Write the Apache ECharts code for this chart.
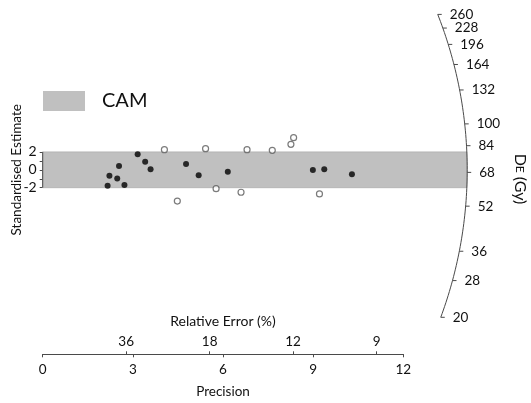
<!DOCTYPE html>
<html>
<head>
<meta charset="utf-8">
<script src="https://cdn.jsdelivr.net/npm/echarts@6/dist/echarts.min.js"></script>
<style>
  html, body { margin: 0; padding: 0; background: #fff; }
  #chart { width: 531px; height: 403px; }
</style>
</head>
<body>
<div id="chart"></div>
<script>
// Radial plot of single-aliquot equivalent doses with the CAM ±2 band

// Aliquots falling inside the ±2 band: [precision, standardised estimate]
const insideBand = [
  [2.16, -1.78], [2.22, -0.66], [2.54, 0.42], [2.48, -0.98], [2.72, -1.70],
  [3.16, 1.73], [3.41, 0.91], [3.59, 0.06], [4.77, 0.65], [5.19, -0.61],
  [6.16, -0.21], [8.99, -0.02], [9.37, 0.06], [10.29, -0.50]
];
// Aliquots falling outside the band
const outsideBand = [
  [4.05, 2.25], [4.48, -3.49], [5.42, 2.36], [5.77, -2.11], [6.60, -2.51],
  [6.80, 2.25], [7.64, 2.18], [8.26, 2.85], [8.35, 3.59], [9.21, -2.70]
];

const centralDe = 69.4;          // CAM dose, Gy
const bandHalfWidth = 2;         // ±2 standardised units
const deTicks = [20, 28, 36, 52, 68, 84, 100, 132, 164, 196, 228, 260];
const precisionTicks = [0, 3, 6, 9, 12];
const relErrorTicks = [36, 18, 12, 9];   // percent
const yTickValues = [-2, -1, 0, 1, 2];
const yLabelValues = [-2, 0, 2];

// Layout
const FONT = 'Lato, "Open Sans", sans-serif';
const TEXT = '#111';
const AXIS = '#4a4a4a';
const BAND = '#c0c0c0';
const ARC_RADIUS = 424.5;        // px, radius of the dose scale
const PLOT_LEFT = 42.7, PLOT_RIGHT = 127.7;
const Y_ORIGIN_PX = 169.8, Y_PX_PER_UNIT = 8.95, Y_HALF_RANGE = 18;
const X_AXIS_PX = 354.3;

function radialFrame(api) {
  const o = api.coord([0, 0]);
  const sx = api.coord([1, 0])[0] - o[0];
  const sy = o[1] - api.coord([0, 1])[1];
  return { o, sx, sy };
}
function rayAngle(f, de) {
  const slope = Math.log(de) - Math.log(centralDe);
  return Math.atan2(-slope * f.sy, f.sx);
}
function onArc(f, a, r) {
  return [f.o[0] + r * Math.cos(a), f.o[1] + r * Math.sin(a)];
}

// CAM band: horizontal strip from the origin out to the dose arc
function renderBand(params, api) {
  const f = radialFrame(api);
  const yTop = api.coord([0, bandHalfWidth])[1];
  const yBot = api.coord([0, -bandHalfWidth])[1];
  const pts = [[f.o[0], yTop]];
  const n = 24;
  for (let i = 0; i <= n; i++) {
    const y = yTop + (yBot - yTop) * i / n;
    const dy = y - f.o[1];
    pts.push([f.o[0] + Math.sqrt(ARC_RADIUS * ARC_RADIUS - dy * dy), y]);
  }
  pts.push([f.o[0], yBot]);
  return {
    type: 'polygon',
    shape: { points: pts },
    style: { fill: BAND, stroke: '#adadad', lineWidth: 0.8 }
  };
}

// Dose scale: arc, ticks and labels
function renderDoseScale(params, api) {
  const f = radialFrame(api);
  const aStart = rayAngle(f, deTicks[deTicks.length - 1]);
  const aEnd = rayAngle(f, deTicks[0]);
  const arcPts = [];
  const n = 80;
  for (let i = 0; i <= n; i++) {
    arcPts.push(onArc(f, aStart + (aEnd - aStart) * i / n, ARC_RADIUS));
  }
  const children = [{
    type: 'polyline',
    shape: { points: arcPts },
    style: { stroke: AXIS, lineWidth: 1, fill: null }
  }];
  deTicks.forEach(function (de) {
    const p = onArc(f, rayAngle(f, de), ARC_RADIUS);
    children.push({
      type: 'line',
      shape: { x1: p[0], y1: p[1], x2: p[0] + 4, y2: p[1] },
      style: { stroke: AXIS, lineWidth: 1 }
    });
    children.push({
      type: 'text',
      x: p[0] + 12, y: p[1],
      style: {
        text: String(de), fill: TEXT, fontSize: 13.5, fontFamily: FONT,
        align: 'left', verticalAlign: 'middle'
      }
    });
  });
  return { type: 'group', children: children };
}

const chart = echarts.init(document.getElementById('chart'), null, { renderer: 'canvas' });

chart.setOption({
  animation: false,
  backgroundColor: '#fff',
  textStyle: { fontFamily: FONT, color: TEXT },
  legend: {
    left: 43, top: 91, padding: 0,
    itemWidth: 42, itemHeight: 20,
    selectedMode: false,
    data: [{ name: 'CAM', icon: 'rect', itemStyle: { color: BAND } }],
    textStyle: { fontSize: 20, color: TEXT, fontFamily: FONT, padding: [0, 0, 0, 12] }
  },
  grid: [
    {
      left: PLOT_LEFT, right: PLOT_RIGHT,
      top: Y_ORIGIN_PX - Y_HALF_RANGE * Y_PX_PER_UNIT,
      height: 2 * Y_HALF_RANGE * Y_PX_PER_UNIT,
      outerBoundsMode: 'none'
    },
    {
      left: PLOT_LEFT, right: PLOT_RIGHT,
      top: X_AXIS_PX, height: 0,
      outerBoundsMode: 'none'
    }
  ],
  xAxis: [
    { gridIndex: 0, type: 'value', min: 0, max: 12, show: false },
    {
      gridIndex: 1, type: 'value', position: 'bottom',
      min: 0, max: 12, interval: 3,
      name: 'Precision', nameLocation: 'middle', nameGap: 30,
      nameMoveOverlap: false,
      nameTextStyle: { fontSize: 13.5, color: TEXT, fontFamily: FONT },
      axisLine: { show: true, lineStyle: { color: AXIS, width: 1 } },
      axisTick: { show: true, length: 3, customValues: precisionTicks, lineStyle: { color: AXIS } },
      axisLabel: { customValues: precisionTicks, fontSize: 13.5, color: TEXT, fontFamily: FONT, margin: 8 },
      splitLine: { show: false }
    },
    {
      gridIndex: 1, type: 'value', position: 'top',
      min: 0, max: 12,
      name: 'Relative Error (%)', nameLocation: 'middle', nameGap: 26,
      nameMoveOverlap: false,
      nameTextStyle: { fontSize: 14, color: TEXT, fontFamily: FONT },
      axisLine: { show: true, lineStyle: { color: AXIS, width: 1 } },
      axisTick: {
        show: true, length: 3, lineStyle: { color: AXIS },
        customValues: relErrorTicks.map(function (r) { return 100 / r; })
      },
      axisLabel: {
        customValues: relErrorTicks.map(function (r) { return 100 / r; }),
        formatter: function (v) { return String(Math.round(100 / v)); },
        fontSize: 13.5, color: TEXT, fontFamily: FONT, margin: 6
      },
      splitLine: { show: false }
    }
  ],
  yAxis: [
    {
      gridIndex: 0, type: 'value',
      min: -Y_HALF_RANGE, max: Y_HALF_RANGE,
      name: 'Standardised Estimate', nameLocation: 'middle', nameGap: 19,
      nameMoveOverlap: false,
      nameTextStyle: { fontSize: 13.5, color: TEXT, fontFamily: FONT },
      axisLine: { show: false },
      axisTick: { show: true, length: 3, customValues: yTickValues, lineStyle: { color: AXIS } },
      axisLabel: { customValues: yLabelValues, fontSize: 14, color: TEXT, fontFamily: FONT, margin: 6 },
      splitLine: { show: false }
    },
    { gridIndex: 1, type: 'value', min: 0, max: 1, show: false }
  ],
  series: [
    {
      name: 'CAM', type: 'custom', xAxisIndex: 0, yAxisIndex: 0,
      itemStyle: { color: BAND },
      renderItem: renderBand,
      data: [[0, 0]], z: 1, silent: true
    },
    {
      name: 'Standardised axis', type: 'line', xAxisIndex: 0, yAxisIndex: 0,
      data: [[0, -bandHalfWidth], [0, bandHalfWidth]],
      symbol: 'none', lineStyle: { color: AXIS, width: 1 }, z: 3, silent: true
    },
    {
      name: 'Dose scale', type: 'custom', xAxisIndex: 0, yAxisIndex: 0,
      renderItem: renderDoseScale,
      data: [[0, 0]], z: 2, silent: true
    },
    {
      name: 'Inside band', type: 'scatter', xAxisIndex: 0, yAxisIndex: 0,
      data: insideBand, symbol: 'circle', symbolSize: 6,
      itemStyle: { color: '#000' }, z: 5
    },
    {
      name: 'Outside band', type: 'scatter', xAxisIndex: 0, yAxisIndex: 0,
      data: outsideBand, symbol: 'circle', symbolSize: 6,
      itemStyle: { color: '#fff', borderColor: '#5a5a5a', borderWidth: 1.2 }, z: 5
    }
  ],
  graphic: [{
    type: 'text',
    x: 520, y: 179,
    rotation: -Math.PI / 2,
    style: {
      text: '{d|D}{e|E}{g| (Gy)}',
      align: 'center', verticalAlign: 'middle',
      rich: {
        d: { fontSize: 16, fontFamily: FONT, fill: TEXT },
        e: { fontSize: 12, fontFamily: FONT, fill: TEXT },
        g: { fontSize: 16, fontFamily: FONT, fill: TEXT }
      }
    }
  }]
});
</script>
</body>
</html>
